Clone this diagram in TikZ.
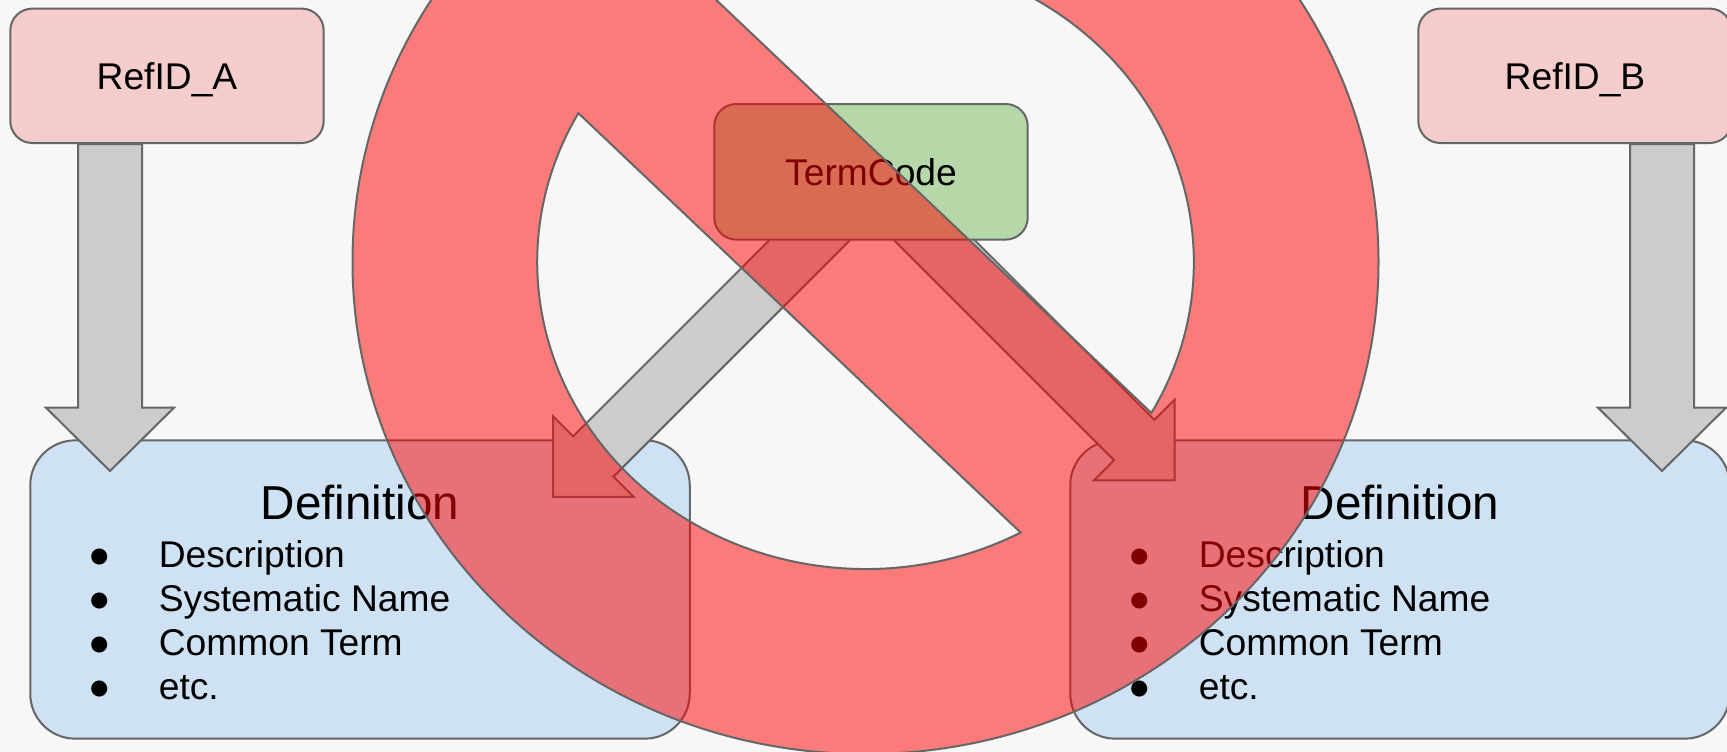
\documentclass[tikz,border=0pt]{standalone}
\usepackage{fontspec}
\setmainfont{Liberation Sans}
\usepackage{xcolor}
\usetikzlibrary{calc}

\definecolor{paper}{HTML}{F7F7F7}
\definecolor{edge}{HTML}{666666}
\definecolor{refpink}{HTML}{F4CCCC}
\definecolor{termgreen}{HTML}{B6D7A8}
\definecolor{defblue}{HTML}{CFE2F3}
\definecolor{arrowgray}{HTML}{CCCCCC}

\tikzset{
	refbox/.style={draw=edge,line width=2pt,rounded corners=22pt,fill=refpink,minimum width=313.4pt,minimum height=134.4pt,inner sep=0pt,text height=27.8pt,text depth=0pt,font=\fontsize{37.2}{44}\selectfont},
	termbox/.style={refbox,fill=termgreen,minimum width=313.4pt,minimum height=135.6pt},
	defbox/.style={draw=edge,line width=2pt,rounded corners=45pt,fill=defblue,minimum width=659.5pt,minimum height=298.3pt,inner sep=0pt},
	blockarrow/.style={draw=edge,line width=2pt,fill=arrowgray,line join=miter},
	nosign/.style={draw=edge,line width=2pt,fill=red,fill opacity=0.5,even odd rule}
}

% start, tip, half shaft, half head, head length
\newcommand{\blockarrow}[5]{
	\coordinate (base) at ($(#2)!#5pt!(#1)$);
	\draw[blockarrow] ($(#1)!#3pt!90:(#2)$) -- ($(base)!#3pt!90:(#2)$) -- ($(base)!#4pt!90:(#2)$) -- (#2)
		-- ($(base)!#4pt!-90:(#2)$) -- ($(base)!#3pt!-90:(#2)$) -- ($(#1)!#3pt!-90:(#2)$) -- cycle;
}

\begin{document}
\begin{tikzpicture}[x=1pt,y=-1pt]

\useasboundingbox (0,0) rectangle (1727,752);
\fill[paper] (0,0) rectangle (1727,752);

\node[defbox] (defa) at (360,589.5) {};
\node[defbox] (defb) at (1400,589.5) {};

\foreach \d in {defa,defb}
{
	\node[anchor=base,font=\fontsize{47.6}{56}\selectfont] (\d-title) at ($(\d.north)+(0,80)$) {Definition};
	\foreach \i/\t in {0/Description,1/Systematic Name,2/Common Term,3/etc.}
	{
		\node[anchor=base,inner sep=0pt,font=\fontsize{37.2}{44}\selectfont] (\d-dot-\i) at ($(\d.north west)+(70,127.7+44*\i)$) {●};
		\node[anchor=base west,inner sep=0pt,font=\fontsize{37.2}{44}\selectfont] (\d-item-\i) at ($(\d.north west)+(129.4,127.7+44*\i)$) {\t};
	}
}

\node[refbox] (refa) at (167,75.8) {RefID\_A};
\node[refbox] (refb) at (1575,75.8) {RefID\_B};

\coordinate (tipa) at (110,471);
\coordinate (tipb) at (1662,471);
\coordinate (tipl) at (553,496.8);
\coordinate (tipr) at (1174.5,480.3);
\coordinate (startl) at (840,209.8);
\coordinate (startr) at (900.2,206);

\blockarrow{refa.south -| tipa}{tipa}{32}{64}{63.3}
\blockarrow{refb.south -| tipb}{tipb}{32}{64}{63.3}
\blockarrow{startl}{tipl}{28.5}{57}{57}
\blockarrow{startr}{tipr}{28.5}{57}{57}

\node[termbox] (term) at (871,171.8) {TermCode};

\draw[nosign] (865.5,262) ellipse [x radius=513,y radius=492]
	($(865.5,262)+(29.45:328.3 and 307)$) arc [start angle=29.45,end angle=-118.6,x radius=328.3,y radius=307] -- cycle
	($(865.5,262)+(61.8:328.3 and 307)$) arc [start angle=61.8,end angle=209,x radius=328.3,y radius=307] -- cycle;

\end{tikzpicture}
\end{document}
